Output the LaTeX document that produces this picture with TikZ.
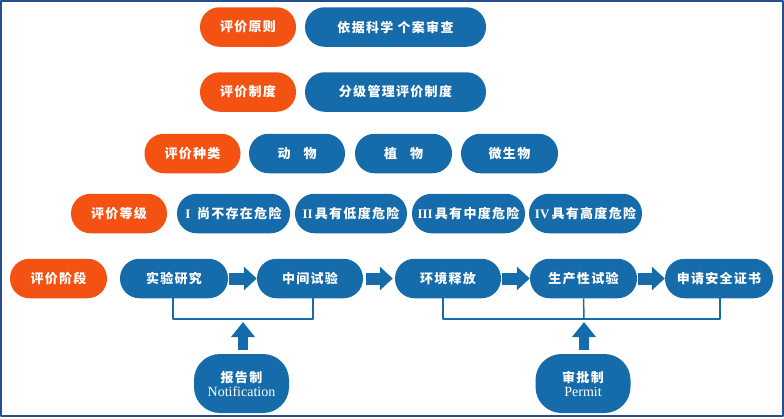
\documentclass[tikz,border=0pt]{standalone}
\usepackage{fontspec}
\setmainfont{Liberation Serif}
\newfontfamily\cjk{Noto Sans CJK SC}[LetterSpace=10]
\usetikzlibrary{arrows.meta,calc}
\definecolor{pjorange}{RGB}{243,82,18}
\definecolor{pjblue}{RGB}{22,108,170}
\definecolor{pjframe}{RGB}{38,78,142}

\begin{document}
\begin{tikzpicture}[line cap=round,line join=round,x=1pt,y=-1pt,
	pill/.style={rectangle,rounded corners=19.5pt,minimum height=39.5pt,inner sep=0pt,
		text=white,font=\cjk\bfseries\fontsize{13}{15}\selectfont},
	hdr/.style={pill,fill=pjorange,minimum width=96pt},
	item/.style={pill,fill=pjblue},
	sys/.style={rectangle,rounded corners=26pt,fill=pjblue,minimum width=95pt,minimum height=59pt,
		inner sep=0pt,text=white,align=center,font=\cjk\bfseries\fontsize{13}{15}\selectfont},
	fat/.style={draw=pjblue,line width=12pt,line cap=butt,-{Triangle[length=13pt,width=23pt]}},
	upfat/.style={draw=pjblue,line width=10pt,line cap=butt,-{Triangle[length=15pt,width=23pt]}},
	bracket/.style={draw=pjblue,line width=1.5pt,line cap=butt}]
			\useasboundingbox (0,0) rectangle (784,418);
			\draw [pjframe,line width=2pt] (1,1) rectangle (782.5,416);
			% rows 1 and 2
			\node[hdr] (yz) at (248,27) {评价原则};
			\node[item,minimum width=181pt] (yzt) at (395.5,27) {依据科学 个案审查};
			\node[hdr] (zd) at (248,92) {评价制度};
			\node[item,minimum width=181pt] (zdt) at (395.5,92) {分级管理评价制度};
			% row 3
			\node[hdr] (zl) at (192.5,153.5) {评价种类};
			\node[item,minimum width=96pt] (dw) at (297,153.5) {动\quad 物};
			\node[item,minimum width=97pt] (zw) at (403.5,153.5) {植\quad 物};
			\node[item,minimum width=97pt] (wsw) at (509.5,153.5) {微生物};
			% row 4
			\node[hdr] (dj) at (119,213.5) {评价等级};
			\node[item,minimum width=113pt] (d1) at (233.5,213.5) {{\rmfamily I}\enspace 尚不存在危险};
			\node[item,minimum width=112pt] (d2) at (351,213.5) {{\rmfamily II}\,具有低度危险};
			\node[item,minimum width=113pt] (d3) at (468.5,213.5) {{\rmfamily III}\,具有中度危险};
			\node[item,minimum width=113pt] (d4) at (585.5,213.5) {{\rmfamily IV}\,具有高度危险};
			% row 5
			\node[hdr,minimum width=97pt] (jd) at (58.5,278.5) {评价阶段};
			\node[item,minimum width=108pt] (s1) at (174,278.5) {实验研究};
			\node[item,minimum width=106pt] (s2) at (310,278.5) {中间试验};
			\node[item,minimum width=106pt] (s3) at (448,278.5) {环境释放};
			\node[item,minimum width=107pt] (s4) at (583.5,278.5) {生产性试验};
			\node[item,minimum width=108pt] (s5) at (719,278.5) {申请安全证书};
			\draw[fat] ([xshift=1pt]s1.east) -- (s2.west);
			\draw[fat] ([xshift=3pt]s2.east) -- ([xshift=-2pt]s3.west);
			\draw[fat] ([xshift=1pt]s3.east) -- (s4.west);
			\draw[fat] ([xshift=1pt]s4.east) -- (s5.west);
			% permits
			\node[sys] (bg) at (241.5,383.5) {报告制\\[-1pt]{\rmfamily\mdseries\fontsize{14}{15}\selectfont Notification}};
			\node[sys] (sp) at (583,383.5) {审批制\\[-1pt]{\rmfamily\mdseries\fontsize{14}{15}\selectfont Permit}};
			\coordinate (b1) at (243,319);
			\coordinate (b2) at (584,319);
			\draw[bracket] ([xshift=-1pt]s1.south) |- (b1) -| ([xshift=3pt]s2.south);
			\draw[bracket] ([xshift=-5pt]s3.south) |- (b2) -| ([xshift=1pt]s5.south);
			\draw[bracket] (s4.south) -- (b2);
			\draw[upfat] ([yshift=4pt]bg.north -| b1) -- ([yshift=-3pt]b1);
			\draw[upfat] ([yshift=4pt]sp.north -| b2) -- ([yshift=-3pt]b2);
		\end{tikzpicture}
\end{document}
